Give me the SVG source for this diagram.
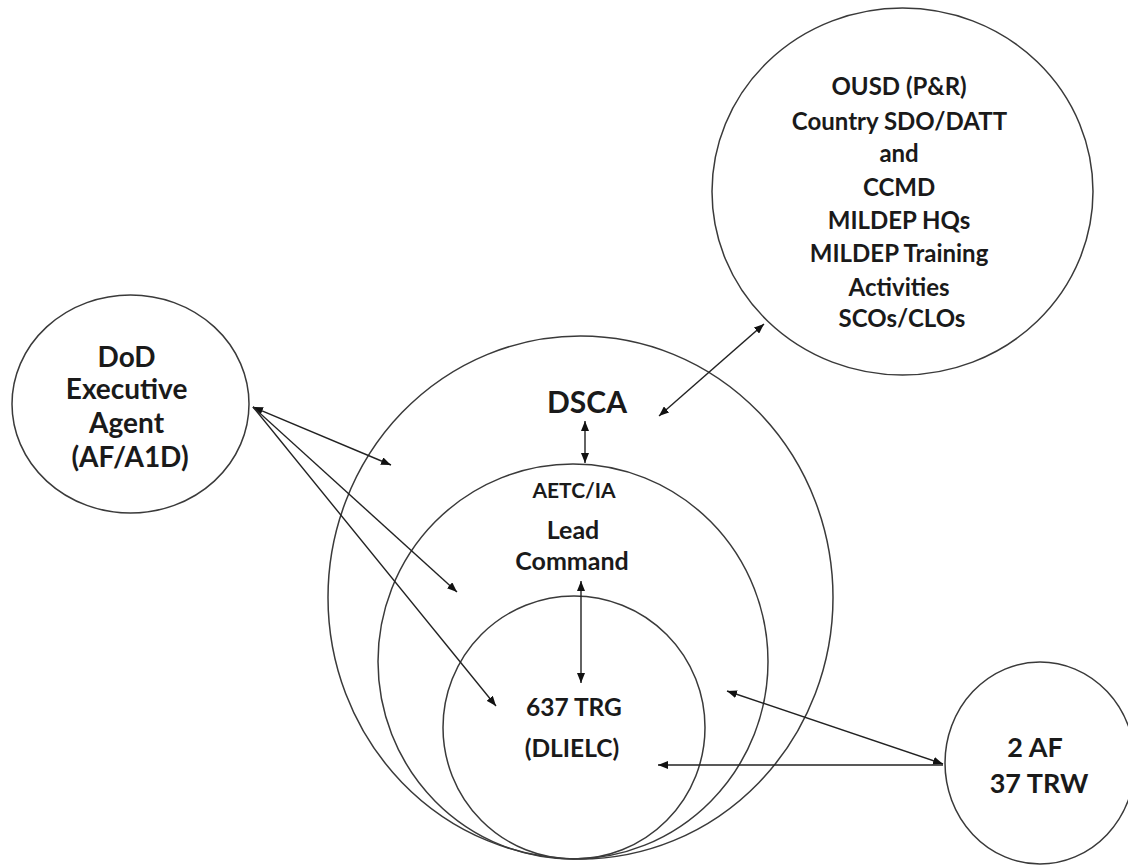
<svg xmlns="http://www.w3.org/2000/svg" width="1128" height="865" viewBox="0 0 1128 865">
<defs>
<marker id="ah" viewBox="0 0 10 8" refX="10" refY="4" markerWidth="10" markerHeight="8" markerUnits="userSpaceOnUse" orient="auto-start-reverse">
<path d="M0,0 L10,4 L0,8 z" fill="#111"/>
</marker>
<style>
.c{fill:none;stroke:#3a3a3a;stroke-width:1.5}
.t{font-family:Lato,"Liberation Sans",sans-serif;font-weight:bold;fill:#1a1a1a;text-anchor:middle}
.a{stroke:#222;stroke-width:1.4;fill:none;marker-start:url(#ah);marker-end:url(#ah)}
.e{stroke:#222;stroke-width:1.4;fill:none;marker-end:url(#ah)}
</style>
</defs>
<rect width="1128" height="865" fill="#fff"/>
<g id="dsca">
<ellipse class="c" cx="580.5" cy="597.5" rx="252.5" ry="261.5"/>
<text class="t" x="587" y="413" font-size="30">DSCA</text>
</g>
<g id="aetc">
<ellipse class="c" cx="573" cy="661.5" rx="195" ry="197.5"/>
<text class="t" x="574" y="498" font-size="21">AETC/IA</text>
<text class="t" x="573" y="539" font-size="25">Lead</text>
<text class="t" x="572" y="570" font-size="25">Command</text>
</g>
<g id="trg637">
<ellipse class="c" cx="574" cy="727.5" rx="131" ry="131.5"/>
<text class="t" x="574" y="716" font-size="24.5">637 TRG</text>
<text class="t" x="572" y="757" font-size="24.5">(DLIELC)</text>
</g>
<g id="ousd">
<ellipse class="c" cx="902.5" cy="191.5" rx="190.5" ry="183.5"/>
<text class="t" font-size="24" x="902">
<tspan x="902" y="95">OUSD (P&amp;R)</tspan>
<tspan x="902" y="130">Country SDO/DATT</tspan>
<tspan x="902" y="162">and</tspan>
<tspan x="902" y="196">CCMD</tspan>
<tspan x="902" y="229">MILDEP HQs</tspan>
<tspan x="902" y="262">MILDEP Training</tspan>
<tspan x="902" y="296">Activities</tspan>
<tspan x="902" y="327">SCOs/CLOs</tspan>
</text>
</g>
<g id="dod">
<ellipse class="c" cx="130.5" cy="404" rx="118.5" ry="109"/>
<text class="t" font-size="28">
<tspan x="130" y="367">DoD</tspan>
<tspan x="130" y="399">Executive</tspan>
<tspan x="130" y="433">Agent</tspan>
<tspan x="130" y="467">(AF/A1D)</tspan>
</text>
</g>
<g id="af2">
<ellipse class="c" cx="1040" cy="763" rx="95" ry="101"/>
<text class="t" font-size="27">
<tspan x="1038" y="757">2 AF</tspan>
<tspan x="1039" y="793">37 TRW</tspan>
</text>
</g>
<g id="connectors">
<line class="a" x1="253" y1="407" x2="391" y2="465"/>
<line class="e" x1="253" y1="407" x2="457" y2="592"/>
<line class="e" x1="253" y1="407" x2="496" y2="706"/>
<line class="a" x1="585" y1="421" x2="585" y2="463"/>
<line class="a" x1="581" y1="581" x2="581" y2="683"/>
<line class="a" x1="659" y1="416" x2="764" y2="324"/>
<line class="a" x1="943" y1="764" x2="727" y2="691"/>
<line class="e" x1="943" y1="765" x2="658" y2="765"/>
</g>
</svg>
